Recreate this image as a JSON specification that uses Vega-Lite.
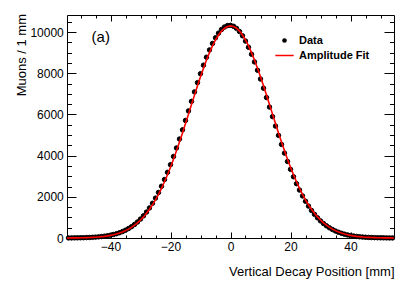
{
  "$schema": "https://vega.github.io/schema/vega-lite/v6.json",
  "width": 327,
  "height": 223,
  "autosize": {"type": "none"},
  "padding": {"left": 67, "top": 15, "right": 21, "bottom": 46},
  "background": "white",
  "datasets": {
    "hist": [
      {"x": -54, "y": 4, "series": "Data"}, {"x": -53, "y": 5, "series": "Data"}, {"x": -52, "y": 7, "series": "Data"}, {"x": -51, "y": 9, "series": "Data"}, {"x": -50, "y": 12, "series": "Data"},
      {"x": -49, "y": 15, "series": "Data"}, {"x": -48, "y": 20, "series": "Data"}, {"x": -47, "y": 26, "series": "Data"}, {"x": -46, "y": 34, "series": "Data"}, {"x": -45, "y": 43, "series": "Data"},
      {"x": -44, "y": 55, "series": "Data"}, {"x": -43, "y": 69, "series": "Data"}, {"x": -42, "y": 88, "series": "Data"}, {"x": -41, "y": 110, "series": "Data"}, {"x": -40, "y": 137, "series": "Data"},
      {"x": -39, "y": 170, "series": "Data"}, {"x": -38, "y": 209, "series": "Data"}, {"x": -37, "y": 257, "series": "Data"}, {"x": -36, "y": 313, "series": "Data"}, {"x": -35, "y": 380, "series": "Data"},
      {"x": -34, "y": 458, "series": "Data"}, {"x": -33, "y": 550, "series": "Data"}, {"x": -32, "y": 656, "series": "Data"}, {"x": -31, "y": 778, "series": "Data"}, {"x": -30, "y": 919, "series": "Data"},
      {"x": -29, "y": 1078, "series": "Data"}, {"x": -28, "y": 1259, "series": "Data"}, {"x": -27, "y": 1461, "series": "Data"}, {"x": -26, "y": 1687, "series": "Data"}, {"x": -25, "y": 1937, "series": "Data"},
      {"x": -24, "y": 2212, "series": "Data"}, {"x": -23, "y": 2513, "series": "Data"}, {"x": -22, "y": 2838, "series": "Data"}, {"x": -21, "y": 3188, "series": "Data"}, {"x": -20, "y": 3562, "series": "Data"},
      {"x": -19, "y": 3958, "series": "Data"}, {"x": -18, "y": 4373, "series": "Data"}, {"x": -17, "y": 4806, "series": "Data"}, {"x": -16, "y": 5253, "series": "Data"}, {"x": -15, "y": 5710, "series": "Data"},
      {"x": -14, "y": 6173, "series": "Data"}, {"x": -13, "y": 6636, "series": "Data"}, {"x": -12, "y": 7096, "series": "Data"}, {"x": -11, "y": 7545, "series": "Data"}, {"x": -10, "y": 7980, "series": "Data"},
      {"x": -9, "y": 8393, "series": "Data"}, {"x": -8, "y": 8779, "series": "Data"}, {"x": -7, "y": 9133, "series": "Data"}, {"x": -6, "y": 9449, "series": "Data"}, {"x": -5, "y": 9723, "series": "Data"},
      {"x": -4, "y": 9949, "series": "Data"}, {"x": -3, "y": 10125, "series": "Data"}, {"x": -2, "y": 10248, "series": "Data"}, {"x": -1, "y": 10316, "series": "Data"}, {"x": 0, "y": 10327, "series": "Data"},
      {"x": 1, "y": 10282, "series": "Data"}, {"x": 2, "y": 10181, "series": "Data"}, {"x": 3, "y": 10026, "series": "Data"}, {"x": 4, "y": 9819, "series": "Data"}, {"x": 5, "y": 9564, "series": "Data"},
      {"x": 6, "y": 9264, "series": "Data"}, {"x": 7, "y": 8925, "series": "Data"}, {"x": 8, "y": 8551, "series": "Data"}, {"x": 9, "y": 8148, "series": "Data"}, {"x": 10, "y": 7721, "series": "Data"},
      {"x": 11, "y": 7277, "series": "Data"}, {"x": 12, "y": 6821, "series": "Data"}, {"x": 13, "y": 6358, "series": "Data"}, {"x": 14, "y": 5895, "series": "Data"}, {"x": 15, "y": 5435, "series": "Data"},
      {"x": 16, "y": 4984, "series": "Data"}, {"x": 17, "y": 4545, "series": "Data"}, {"x": 18, "y": 4122, "series": "Data"}, {"x": 19, "y": 3718, "series": "Data"}, {"x": 20, "y": 3335, "series": "Data"},
      {"x": 21, "y": 2975, "series": "Data"}, {"x": 22, "y": 2640, "series": "Data"}, {"x": 23, "y": 2329, "series": "Data"}, {"x": 24, "y": 2044, "series": "Data"}, {"x": 25, "y": 1784, "series": "Data"},
      {"x": 26, "y": 1549, "series": "Data"}, {"x": 27, "y": 1337, "series": "Data"}, {"x": 28, "y": 1148, "series": "Data"}, {"x": 29, "y": 980, "series": "Data"}, {"x": 30, "y": 832, "series": "Data"},
      {"x": 31, "y": 703, "series": "Data"}, {"x": 32, "y": 590, "series": "Data"}, {"x": 33, "y": 493, "series": "Data"}, {"x": 34, "y": 410, "series": "Data"}, {"x": 35, "y": 338, "series": "Data"},
      {"x": 36, "y": 278, "series": "Data"}, {"x": 37, "y": 227, "series": "Data"}, {"x": 38, "y": 185, "series": "Data"}, {"x": 39, "y": 149, "series": "Data"}, {"x": 40, "y": 120, "series": "Data"},
      {"x": 41, "y": 96, "series": "Data"}, {"x": 42, "y": 76, "series": "Data"}, {"x": 43, "y": 60, "series": "Data"}, {"x": 44, "y": 47, "series": "Data"}, {"x": 45, "y": 37, "series": "Data"},
      {"x": 46, "y": 29, "series": "Data"}, {"x": 47, "y": 22, "series": "Data"}, {"x": 48, "y": 17, "series": "Data"}, {"x": 49, "y": 13, "series": "Data"}, {"x": 50, "y": 10, "series": "Data"},
      {"x": 51, "y": 8, "series": "Data"}, {"x": 52, "y": 6, "series": "Data"}, {"x": 53, "y": 4, "series": "Data"}, {"x": 54, "y": 3, "series": "Data"}
    ],
    "fit": [
      {"x": -54.5, "y": 3, "series": "Amplitude Fit"}, {"x": -54, "y": 3, "series": "Amplitude Fit"}, {"x": -53, "y": 5, "series": "Amplitude Fit"}, {"x": -52, "y": 6, "series": "Amplitude Fit"}, {"x": -51, "y": 8, "series": "Amplitude Fit"},
      {"x": -50, "y": 11, "series": "Amplitude Fit"}, {"x": -49, "y": 14, "series": "Amplitude Fit"}, {"x": -48, "y": 19, "series": "Amplitude Fit"}, {"x": -47, "y": 24, "series": "Amplitude Fit"}, {"x": -46, "y": 31, "series": "Amplitude Fit"},
      {"x": -45, "y": 40, "series": "Amplitude Fit"}, {"x": -44, "y": 51, "series": "Amplitude Fit"}, {"x": -43, "y": 65, "series": "Amplitude Fit"}, {"x": -42, "y": 81, "series": "Amplitude Fit"}, {"x": -41, "y": 102, "series": "Amplitude Fit"},
      {"x": -40, "y": 128, "series": "Amplitude Fit"}, {"x": -39, "y": 159, "series": "Amplitude Fit"}, {"x": -38, "y": 196, "series": "Amplitude Fit"}, {"x": -37, "y": 241, "series": "Amplitude Fit"}, {"x": -36, "y": 294, "series": "Amplitude Fit"},
      {"x": -35, "y": 357, "series": "Amplitude Fit"}, {"x": -34, "y": 432, "series": "Amplitude Fit"}, {"x": -33, "y": 519, "series": "Amplitude Fit"}, {"x": -32, "y": 620, "series": "Amplitude Fit"}, {"x": -31, "y": 738, "series": "Amplitude Fit"},
      {"x": -30, "y": 872, "series": "Amplitude Fit"}, {"x": -29, "y": 1025, "series": "Amplitude Fit"}, {"x": -28, "y": 1199, "series": "Amplitude Fit"}, {"x": -27, "y": 1394, "series": "Amplitude Fit"}, {"x": -26, "y": 1612, "series": "Amplitude Fit"},
      {"x": -25, "y": 1854, "series": "Amplitude Fit"}, {"x": -24, "y": 2121, "series": "Amplitude Fit"}, {"x": -23, "y": 2413, "series": "Amplitude Fit"}, {"x": -22, "y": 2730, "series": "Amplitude Fit"}, {"x": -21, "y": 3072, "series": "Amplitude Fit"},
      {"x": -20, "y": 3438, "series": "Amplitude Fit"}, {"x": -19, "y": 3826, "series": "Amplitude Fit"}, {"x": -18, "y": 4234, "series": "Amplitude Fit"}, {"x": -17, "y": 4661, "series": "Amplitude Fit"}, {"x": -16, "y": 5103, "series": "Amplitude Fit"},
      {"x": -15, "y": 5556, "series": "Amplitude Fit"}, {"x": -14, "y": 6016, "series": "Amplitude Fit"}, {"x": -13, "y": 6478, "series": "Amplitude Fit"}, {"x": -12, "y": 6939, "series": "Amplitude Fit"}, {"x": -11, "y": 7390, "series": "Amplitude Fit"},
      {"x": -10, "y": 7829, "series": "Amplitude Fit"}, {"x": -9, "y": 8248, "series": "Amplitude Fit"}, {"x": -8, "y": 8641, "series": "Amplitude Fit"}, {"x": -7, "y": 9004, "series": "Amplitude Fit"}, {"x": -6, "y": 9331, "series": "Amplitude Fit"},
      {"x": -5, "y": 9617, "series": "Amplitude Fit"}, {"x": -4, "y": 9858, "series": "Amplitude Fit"}, {"x": -3, "y": 10049, "series": "Amplitude Fit"}, {"x": -2, "y": 10188, "series": "Amplitude Fit"}, {"x": -1, "y": 10272, "series": "Amplitude Fit"},
      {"x": 0, "y": 10300, "series": "Amplitude Fit"},
      {"x": 1, "y": 10272, "series": "Amplitude Fit"}, {"x": 2, "y": 10188, "series": "Amplitude Fit"}, {"x": 3, "y": 10049, "series": "Amplitude Fit"}, {"x": 4, "y": 9858, "series": "Amplitude Fit"}, {"x": 5, "y": 9617, "series": "Amplitude Fit"},
      {"x": 6, "y": 9331, "series": "Amplitude Fit"}, {"x": 7, "y": 9004, "series": "Amplitude Fit"}, {"x": 8, "y": 8641, "series": "Amplitude Fit"}, {"x": 9, "y": 8248, "series": "Amplitude Fit"}, {"x": 10, "y": 7829, "series": "Amplitude Fit"},
      {"x": 11, "y": 7390, "series": "Amplitude Fit"}, {"x": 12, "y": 6939, "series": "Amplitude Fit"}, {"x": 13, "y": 6478, "series": "Amplitude Fit"}, {"x": 14, "y": 6016, "series": "Amplitude Fit"}, {"x": 15, "y": 5556, "series": "Amplitude Fit"},
      {"x": 16, "y": 5103, "series": "Amplitude Fit"}, {"x": 17, "y": 4661, "series": "Amplitude Fit"}, {"x": 18, "y": 4234, "series": "Amplitude Fit"}, {"x": 19, "y": 3826, "series": "Amplitude Fit"}, {"x": 20, "y": 3438, "series": "Amplitude Fit"},
      {"x": 21, "y": 3072, "series": "Amplitude Fit"}, {"x": 22, "y": 2730, "series": "Amplitude Fit"}, {"x": 23, "y": 2413, "series": "Amplitude Fit"}, {"x": 24, "y": 2121, "series": "Amplitude Fit"}, {"x": 25, "y": 1854, "series": "Amplitude Fit"},
      {"x": 26, "y": 1612, "series": "Amplitude Fit"}, {"x": 27, "y": 1394, "series": "Amplitude Fit"}, {"x": 28, "y": 1199, "series": "Amplitude Fit"}, {"x": 29, "y": 1025, "series": "Amplitude Fit"}, {"x": 30, "y": 872, "series": "Amplitude Fit"},
      {"x": 31, "y": 738, "series": "Amplitude Fit"}, {"x": 32, "y": 620, "series": "Amplitude Fit"}, {"x": 33, "y": 519, "series": "Amplitude Fit"}, {"x": 34, "y": 432, "series": "Amplitude Fit"}, {"x": 35, "y": 357, "series": "Amplitude Fit"},
      {"x": 36, "y": 294, "series": "Amplitude Fit"}, {"x": 37, "y": 241, "series": "Amplitude Fit"}, {"x": 38, "y": 196, "series": "Amplitude Fit"}, {"x": 39, "y": 159, "series": "Amplitude Fit"}, {"x": 40, "y": 128, "series": "Amplitude Fit"},
      {"x": 41, "y": 102, "series": "Amplitude Fit"}, {"x": 42, "y": 81, "series": "Amplitude Fit"}, {"x": 43, "y": 65, "series": "Amplitude Fit"}, {"x": 44, "y": 51, "series": "Amplitude Fit"}, {"x": 45, "y": 40, "series": "Amplitude Fit"},
      {"x": 46, "y": 31, "series": "Amplitude Fit"}, {"x": 47, "y": 24, "series": "Amplitude Fit"}, {"x": 48, "y": 19, "series": "Amplitude Fit"}, {"x": 49, "y": 14, "series": "Amplitude Fit"}, {"x": 50, "y": 11, "series": "Amplitude Fit"},
      {"x": 51, "y": 8, "series": "Amplitude Fit"}, {"x": 52, "y": 6, "series": "Amplitude Fit"}, {"x": 53, "y": 5, "series": "Amplitude Fit"}, {"x": 54, "y": 3, "series": "Amplitude Fit"}, {"x": 54.5, "y": 3, "series": "Amplitude Fit"}
    ]
  },
  "config": {
    "font": "Liberation Sans",
    "view": {"stroke": "black", "strokeWidth": 1},
    "axis": {
      "grid": false,
      "domain": false,
      "tickColor": "black",
      "tickWidth": 1,
      "labelFont": "Liberation Sans",
      "labelFontSize": 12,
      "labelColor": "black",
      "titleFont": "Liberation Sans",
      "titleFontSize": 13,
      "titleFontWeight": "normal",
      "titleColor": "black"
    }
  },
  "resolve": {"axis": {"x": "independent", "y": "independent"}},
  "layer": [
    {
      "data": {"name": "hist"},
      "mark": {"type": "point", "filled": true, "size": 20, "opacity": 1, "strokeWidth": 1},
      "encoding": {
        "x": {
          "field": "x", "type": "quantitative",
          "scale": {"domain": [-54.5, 54.5], "nice": false, "zero": false},
          "axis": {"orient": "bottom", "values": [-40, -20, 0, 20, 40], "tickSize": -6, "labelPadding": 9.7,
                   "title": "Vertical Decay Position [mm]", "titleAnchor": "end", "titleBaseline": "alphabetic", "titleY": 37}
        },
        "y": {
          "field": "y", "type": "quantitative",
          "scale": {"domain": [0, 10830], "nice": false, "zero": true},
          "axis": {"orient": "left", "values": [0, 2000, 4000, 6000, 8000, 10000], "format": "d", "tickSize": -9, "labelPadding": 12.7,
                   "title": "Muons / 1 mm", "titleAnchor": "end", "titleBaseline": "alphabetic", "titleX": -42, "titleY": -1.5}
        },
        "fill": {
          "field": "series", "type": "nominal",
          "scale": {"domain": ["Data", "Amplitude Fit"], "range": ["black", "#ff0000"]},
          "legend": {"title": null, "orient": "none", "legendX": 212, "legendY": 20, "padding": 0, "labelFont": "Liberation Sans", "labelFontSize": 11, "labelFontWeight": "bold", "labelColor": "black", "symbolSize": 10, "symbolStrokeWidth": 1.5, "labelOffset": 9, "rowPadding": 3}
        },
        "stroke": {
          "field": "series", "type": "nominal",
          "scale": {"domain": ["Data", "Amplitude Fit"], "range": ["black", "#ff0000"]},
          "legend": {"title": null, "orient": "none", "legendX": 212, "legendY": 20, "padding": 0, "labelFont": "Liberation Sans", "labelFontSize": 11, "labelFontWeight": "bold", "labelColor": "black", "symbolSize": 10, "symbolStrokeWidth": 1.5, "labelOffset": 9, "rowPadding": 3}
        },
        "shape": {
          "field": "series", "type": "nominal",
          "scale": {"domain": ["Data", "Amplitude Fit"], "range": ["circle", "M-5.8,0H5.8"]},
          "legend": {"title": null, "orient": "none", "legendX": 212, "legendY": 20, "padding": 0, "labelFont": "Liberation Sans", "labelFontSize": 11, "labelFontWeight": "bold", "labelColor": "black", "symbolSize": 10, "symbolStrokeWidth": 1.5, "labelOffset": 9, "rowPadding": 3}
        }
      }
    },
    {
      "data": {"name": "fit"},
      "mark": {"type": "line", "strokeWidth": 1.6},
      "encoding": {
        "x": {"field": "x", "type": "quantitative",
              "axis": {"orient": "top", "values": [-40, -20, 0, 20, 40], "tickSize": -6, "labels": false, "title": null}},
        "y": {"field": "y", "type": "quantitative",
              "axis": {"orient": "right", "values": [0, 2000, 4000, 6000, 8000, 10000], "tickSize": -10, "labels": false, "title": null}},
        "stroke": {
          "field": "series", "type": "nominal",
          "scale": {"domain": ["Data", "Amplitude Fit"], "range": ["black", "#ff0000"]},
          "legend": {"title": null, "orient": "none", "legendX": 212, "legendY": 20, "padding": 0, "labelFont": "Liberation Sans", "labelFontSize": 11, "labelFontWeight": "bold", "labelColor": "black", "symbolSize": 10, "symbolStrokeWidth": 1.5, "labelOffset": 9, "rowPadding": 3}
        }
      }
    },
    {
      "data": {"name": "fit"},
      "transform": [{"filter": "false"}],
      "mark": "point",
      "encoding": {
        "x": {"field": "x", "type": "quantitative",
              "axis": {"orient": "bottom", "values": [-50, -45, -35, -30, -25, -15, -10, -5, 5, 10, 15, 25, 30, 35, 45, 50], "tickSize": -3, "labels": false, "title": null}},
        "y": {"field": "y", "type": "quantitative",
              "axis": {"orient": "left", "values": [500, 1000, 1500, 2500, 3000, 3500, 4500, 5000, 5500, 6500, 7000, 7500, 8500, 9000, 9500, 10500], "tickSize": -4.5, "labels": false, "title": null}}
      }
    },
    {
      "data": {"name": "fit"},
      "transform": [{"filter": "false"}],
      "mark": "point",
      "encoding": {
        "x": {"field": "x", "type": "quantitative",
              "axis": {"orient": "top", "values": [-50, -45, -35, -30, -25, -15, -10, -5, 5, 10, 15, 25, 30, 35, 45, 50], "tickSize": -3, "labels": false, "title": null}},
        "y": {"field": "y", "type": "quantitative",
              "axis": {"orient": "right", "values": [500, 1000, 1500, 2500, 3000, 3500, 4500, 5000, 5500, 6500, 7000, 7500, 8500, 9000, 9500, 10500], "tickSize": -4.5, "labels": false, "title": null}}
      }
    },
    {
      "data": {"values": [{"label": "(a)"}]},
      "mark": {"type": "text", "align": "left", "baseline": "alphabetic", "fontSize": 15, "font": "Liberation Sans", "color": "black"},
      "encoding": {
        "x": {"datum": -46.3, "type": "quantitative", "axis": null},
        "y": {"datum": 9520, "type": "quantitative", "axis": null},
        "text": {"field": "label"}
      }
    }
  ]
}
